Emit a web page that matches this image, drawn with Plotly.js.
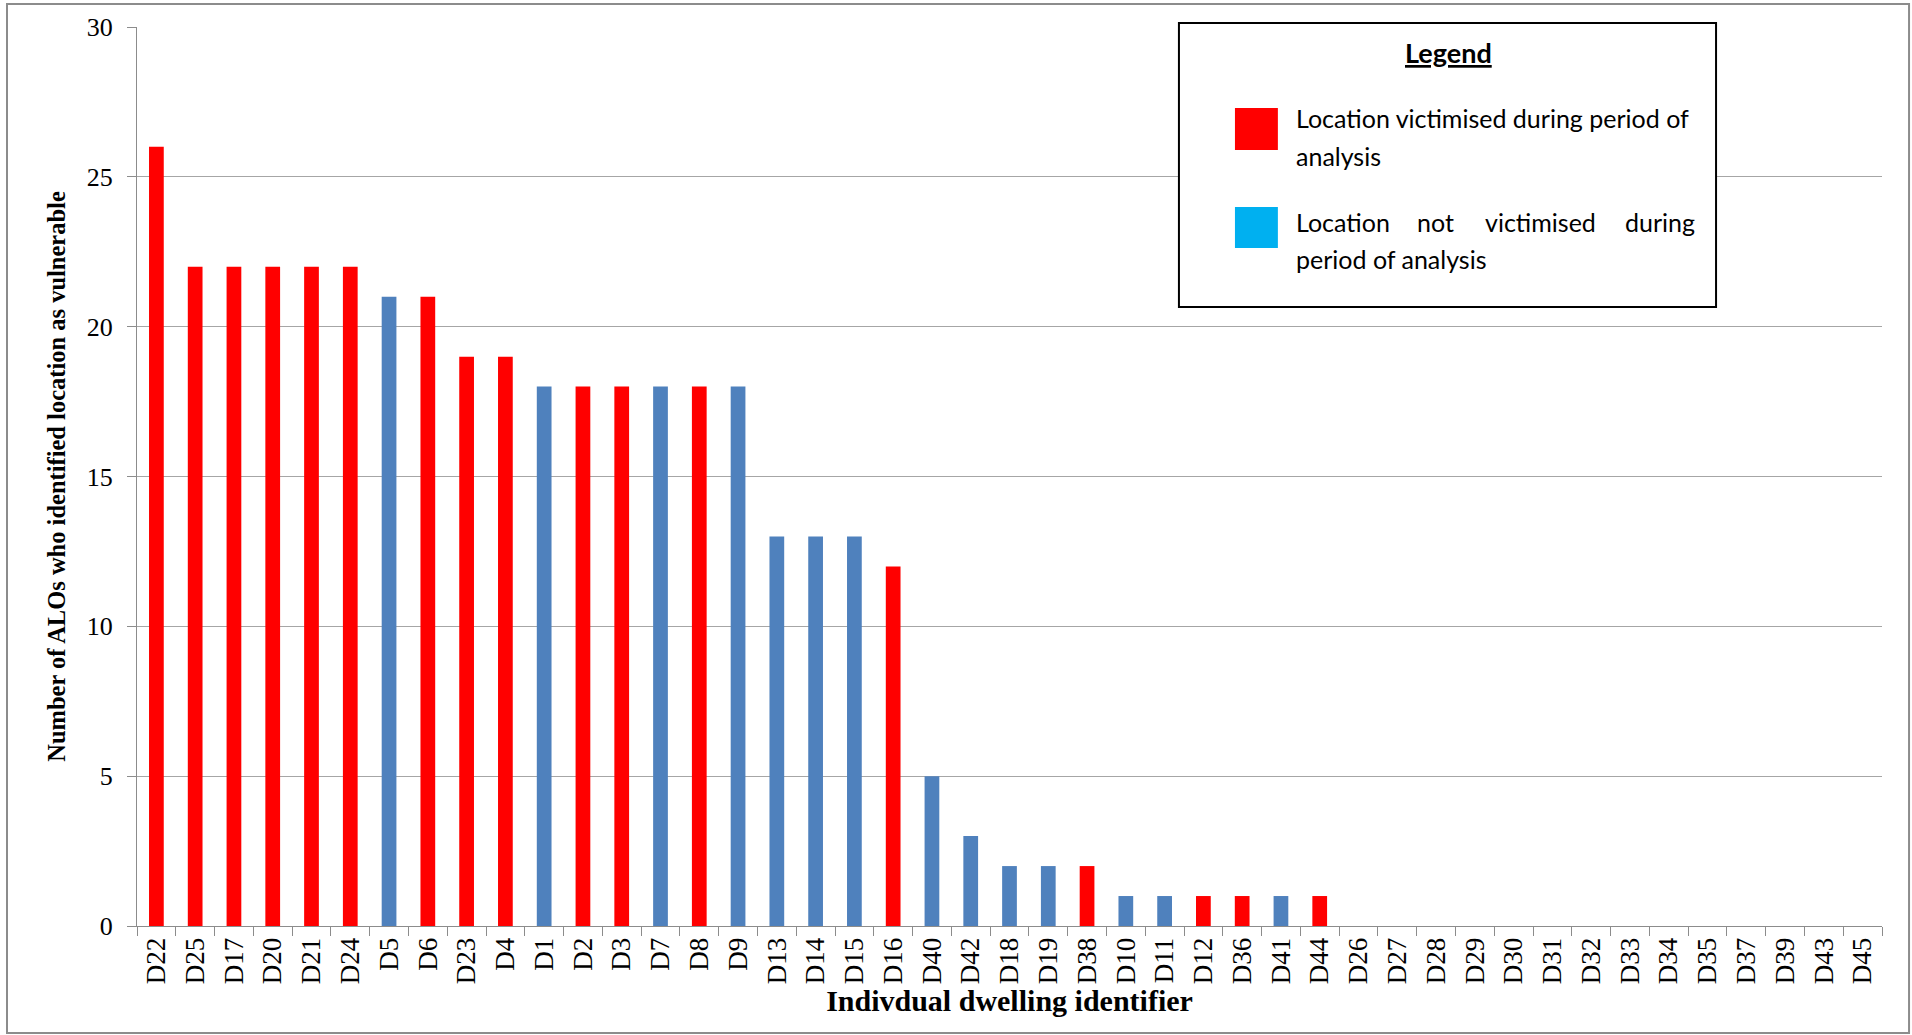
<!DOCTYPE html>
<html>
<head>
<meta charset="utf-8">
<script src="https://cdn.plot.ly/plotly-3.0.1.min.js"></script>
<style>
  html, body { margin: 0; padding: 0; background: #ffffff; }
  #chart { width: 1912px; height: 1035px; }
</style>
</head>
<body>
<div id="chart"></div>
<script>
// ---- Data ----
const dwellings = ["D22","D25","D17","D20","D21","D24","D5","D6","D23","D4",
  "D1","D2","D3","D7","D8","D9","D13","D14","D15","D16",
  "D40","D42","D18","D19","D38","D10","D11","D12","D36","D41","D44",
  "D26","D27","D28","D29","D30","D31","D32","D33","D34","D35","D37","D39","D43","D45"];
const aloCounts = [26,22,22,22,22,22,21,21,19,19,
  18,18,18,18,18,18,13,13,13,12,
  5,3,2,2,2,1,1,1,1,1,1,
  0,0,0,0,0,0,0,0,0,0,0,0,0,0];
// 1 = victimised during period of analysis, 0 = not victimised
const victimised = [1,1,1,1,1,1,0,1,1,1,
  0,1,1,0,1,0,0,0,0,1,
  0,0,0,0,1,0,0,1,1,0,1,
  0,0,0,0,0,0,0,0,0,0,0,0,0,0];
const yTicks = [0,5,10,15,20,25,30];
const legendTitle = "Legend";
const legendLine1 = "Location victimised during period of";
const legendLine2 = "analysis";
const legendWords3 = ["Location","not","victimised","during"];
const legendLine4 = "period of analysis";

// ---- Styles ----
const RED = "#FF0000";
const BAR_BLUE = "#4F81BD";
const LEG_BLUE = "#00B0F0";
const GRID = "#A6A6A6";
const SERIF = "Liberation Serif, Times New Roman, serif";
const SANS = "Lato, Carlito, Calibri, sans-serif";

const barColors = victimised.map(v => v ? RED : BAR_BLUE);

const trace = {
  type: "bar",
  x: dwellings,
  y: aloCounts,
  marker: { color: barColors, line: { width: 0 } },
  hoverinfo: "x+y",
  showlegend: false
};

const legFont = { family: SANS, size: 25, color: "#000000" };
const TX = 0.663;

const annotations = [
  { text: "<b><u>" + legendTitle + "</u></b>", x: 0.7513, y: 0.9711, xref: "paper", yref: "paper",
    xanchor: "center", yanchor: "middle", showarrow: false, font: { family: SANS, size: 27, color: "#000" } },
  { text: legendLine1, x: TX, y: 0.8988, xref: "paper", yref: "paper",
    xanchor: "left", yanchor: "middle", showarrow: false, font: legFont },
  { text: legendLine2, x: TX, y: 0.8565, xref: "paper", yref: "paper",
    xanchor: "left", yanchor: "middle", showarrow: false, font: legFont },
  { text: legendWords3[0], x: TX, y: 0.7831, xref: "paper", yref: "paper",
    xanchor: "left", yanchor: "middle", showarrow: false, font: legFont },
  { text: legendWords3[1], x: 0.7325, y: 0.7831, xref: "paper", yref: "paper",
    xanchor: "left", yanchor: "middle", showarrow: false, font: legFont },
  { text: legendWords3[2], x: 0.7715, y: 0.7831, xref: "paper", yref: "paper",
    xanchor: "left", yanchor: "middle", showarrow: false, font: legFont },
  { text: legendWords3[3], x: 0.8940, y: 0.7831, xref: "paper", yref: "paper",
    xanchor: "right", yanchor: "middle", showarrow: false, font: legFont },
  { text: legendLine4, x: TX, y: 0.7419, xref: "paper", yref: "paper",
    xanchor: "left", yanchor: "middle", showarrow: false, font: legFont }
];

const shapes = [
  // outer chart border
  { type: "rect", xref: "paper", yref: "paper", x0: -0.0745, x1: 1.0155, y0: -0.119, y1: 1.0256,
    line: { color: "#8C8C8C", width: 2 }, fillcolor: "rgba(0,0,0,0)", layer: "below" },
  // legend box
  { type: "rect", xref: "paper", yref: "paper", x0: 0.5971, x1: 0.9049, y0: 0.6885, y1: 1.0044,
    line: { color: "#000000", width: 2 }, fillcolor: "#FFFFFF", layer: "above" },
  // legend swatches
  { type: "rect", xref: "paper", yref: "paper", x0: 0.6292, x1: 0.6538, y0: 0.8632, y1: 0.9099,
    line: { width: 0 }, fillcolor: RED, layer: "above" },
  { type: "rect", xref: "paper", yref: "paper", x0: 0.6292, x1: 0.6538, y0: 0.7542, y1: 0.7998,
    line: { width: 0 }, fillcolor: LEG_BLUE, layer: "above" }
];

const layout = {
  width: 1912,
  height: 1035,
  margin: { l: 137, r: 30, t: 27, b: 109 },
  paper_bgcolor: "#FFFFFF",
  plot_bgcolor: "#FFFFFF",
  bargap: 0.62,
  showlegend: false,
  xaxis: {
    type: "category",
    tickangle: -90,
    tickfont: { family: SERIF, size: 27, color: "#000000" },
    showline: true,
    linecolor: "#8C8C8C",
    linewidth: 1,
    ticks: "outside",
    tickson: "boundaries",
    ticklen: 9,
    tickcolor: "#8C8C8C",
    showgrid: false,
    zeroline: false,
    title: { text: "<b>Indivdual dwelling identifier</b>", font: { family: SERIF, size: 30, color: "#000000" }, standoff: 0 }
  },
  yaxis: {
    range: [0, 30],
    tickvals: yTicks,
    ticktext: yTicks.map(String),
    tickfont: { family: SERIF, size: 26, color: "#000000" },
    showline: true,
    linecolor: "#8C8C8C",
    linewidth: 1,
    ticks: "outside",
    ticklen: 9,
    tickcolor: "#8C8C8C",
    ticklabelstandoff: 9,
    showgrid: true,
    gridcolor: GRID,
    gridwidth: 1,
    zeroline: false,
    title: { text: "<b>Number of ALOs who identified location as vulnerable</b>", font: { family: SERIF, size: 24.5, color: "#000000" }, standoff: 14 }
  },
  shapes: shapes,
  annotations: annotations
};

Plotly.newPlot("chart", [trace], layout, { displayModeBar: false, responsive: false });
</script>
</body>
</html>
